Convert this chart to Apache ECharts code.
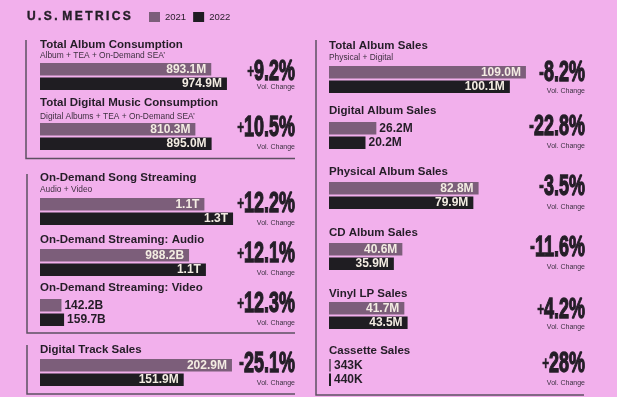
<!DOCTYPE html>
<html>
<head>
<meta charset="utf-8">
<script src="https://cdn.jsdelivr.net/npm/echarts@6/dist/echarts.min.js"></script>
<style>
html, body { margin: 0; padding: 0; background: #f2b0ec; }
#chart { width: 617px; height: 397px; }
</style>
</head>
<body>
<div id="chart"></div>
<script>
const years = ['2021', '2022'];
const metrics = [
  'Total Album Consumption',
  'Total Digital Music Consumption',
  'On-Demand Song Streaming',
  'On-Demand Streaming: Audio',
  'On-Demand Streaming: Video',
  'Digital Track Sales',
  'Total Album Sales',
  'Digital Album Sales',
  'Physical Album Sales',
  'CD Album Sales',
  'Vinyl LP Sales',
  'Cassette Sales'
];
const subtitles = [
  'Album + TEA + On-Demand SEA\u2019',
  'Digital Albums + TEA + On-Demand SEA\u2019',
  'Audio + Video',
  '', '', '',
  'Physical + Digital',
  '', '', '', '', ''
];
// M for album / track units, B for streams
const values2021 = [893.1, 810.3, 1090, 988.2, 142.2, 202.9, 109.0, 26.2, 82.8, 40.6, 41.7, 0.343];
const values2022 = [974.9, 895.0, 1280, 1100, 159.7, 151.9, 100.1, 20.2, 79.9, 35.9, 43.5, 0.44];
const labels2021 = ['893.1M', '810.3M', '1.1T', '988.2B', '142.2B', '202.9M', '109.0M', '26.2M', '82.8M', '40.6M', '41.7M', '343K'];
const labels2022 = ['974.9M', '895.0M', '1.3T', '1.1T', '159.7B', '151.9M', '100.1M', '20.2M', '79.9M', '35.9M', '43.5M', '440K'];
const volChange = ['+9.2%', '+10.5%', '+12.2%', '+12.1%', '+12.3%', '-25.1%', '-8.2%', '-22.8%', '-3.5%', '-11.6%', '+4.2%', '+28%'];

// where each block sits: column, title cap top, subtitle y, 2021 bar top, % centre, "Vol. Change" y, scale group
const layout = [
  { col: 0, ty: 40, sy: 56, by: 63, py: 71.5, vy: 87, g: 0 },
  { col: 0, ty: 98, sy: 116.5, by: 123, py: 127.5, vy: 147, g: 0 },
  { col: 0, ty: 173, sy: 190, by: 198, py: 204, vy: 223, g: 1 },
  { col: 0, ty: 235, by: 249, py: 253.5, vy: 273, g: 1 },
  { col: 0, ty: 283, by: 299, py: 303.5, vy: 323, g: 1 },
  { col: 0, ty: 345, by: 359, py: 363.5, vy: 383, g: 2 },
  { col: 1, ty: 41, sy: 58, by: 66, py: 73, vy: 91, g: 3 },
  { col: 1, ty: 106, by: 122, py: 126.5, vy: 146, g: 3 },
  { col: 1, ty: 167, by: 182, py: 186.5, vy: 207, g: 3 },
  { col: 1, ty: 228, by: 243, py: 247.5, vy: 267, g: 3 },
  { col: 1, ty: 289, by: 302, py: 310, vy: 327, g: 3 },
  { col: 1, ty: 346, by: 359, py: 363.5, vy: 383, g: 3 }
];
const axisMax = [1043, 1326, 211.4, 110.7]; // per scale group, for a 200px wide grid

const FONT = '"Liberation Sans", Arial, sans-serif';
const barColors = ['#7c5e7a', '#1f1d22'];
const ink = '#241d27';
const colLeft = [40, 329];
const colRight = [295, 585];

const chart = echarts.init(document.getElementById('chart'));

const grids = [], xAxes = [], yAxes = [], series = [];
const graphics = [];

metrics.forEach((m, i) => {
  const L = layout[i];
  const max = axisMax[L.g];
  grids.push({ left: colLeft[L.col], top: L.by - 1.5, width: 200, height: 30 });
  xAxes.push({ type: 'value', gridIndex: i, min: 0, max: max, show: false });
  yAxes.push({ type: 'category', gridIndex: i, data: [m], show: false, inverse: true });
  [values2021, values2022].forEach((vals, k) => {
    const inside = vals[i] / max > 0.3;
    series.push({
      name: years[k],
      type: 'bar',
      xAxisIndex: i,
      yAxisIndex: i,
      data: [vals[i]],
      barWidth: 12.5,
      barGap: '16%',
      barMinHeight: 2,
      itemStyle: { color: barColors[k] },
      label: {
        show: true,
        position: inside ? 'insideRight' : 'right',
        distance: inside ? 5 : 3,
        formatter: (k ? labels2022 : labels2021)[i],
        color: inside ? '#f3ece2' : ink,
        fontSize: 12,
        fontWeight: 'bold',
        fontFamily: FONT
      },
      silent: true
    });
  });

  graphics.push({
    type: 'text', x: colLeft[L.col], y: L.ty + 4.5,
    style: { text: m, fill: ink, font: 'bold 11.5px ' + FONT, verticalAlign: 'middle' }
  });
  if (subtitles[i]) {
    graphics.push({
      type: 'text', x: colLeft[L.col], y: L.sy,
      style: { text: subtitles[i], fill: '#3d2f3f', font: '8.4px ' + FONT, verticalAlign: 'middle' }
    });
  }
  const sign = volChange[i].charAt(0);
  graphics.push({
    type: 'text', x: colRight[L.col], y: L.py, scaleX: 0.62,
    style: {
      text: '{s|' + sign + '}{n|' + volChange[i].slice(1) + '}',
      align: 'right', verticalAlign: 'middle',
      rich: {
        s: { fontSize: sign === '-' ? 24 : 19, fontWeight: 'bold', fontFamily: FONT, fill: ink, stroke: ink, lineWidth: 0.6 },
        n: { fontSize: 29, fontWeight: 'bold', fontFamily: FONT, fill: ink, stroke: ink, lineWidth: 1.3 }
      }
    }
  });
  graphics.push({
    type: 'text', x: colRight[L.col], y: L.vy,
    style: { text: 'Vol. Change', fill: '#3a3040', font: '7px ' + FONT, align: 'right', verticalAlign: 'middle' }
  });
});

// frame lines
[
  [[26, 40], [26, 158.5], [295, 158.5]],
  [[27, 174], [27, 333], [295, 333]],
  [[27, 345], [27, 394], [295, 394]],
  [[316, 40], [316, 395], [584, 395]]
].forEach(pts => {
  graphics.push({ type: 'polyline', shape: { points: pts }, style: { stroke: '#5e5062', lineWidth: 1.5, fill: null } });
});

graphics.push({
  type: 'text', x: 27, y: 17,
  style: {
    text: 'U\u2009.\u2009S\u2009.\u2009\u2009M\u2009E\u2009T\u2009R\u2009I\u2009C\u2009S',
    fill: ink, stroke: ink, lineWidth: 0.4, font: 'bold 12px ' + FONT, verticalAlign: 'middle'
  }
});

chart.setOption({
  backgroundColor: '#f2b0ec',
  animation: false,
  legend: {
    data: years,
    left: 149,
    top: 12,
    padding: 0,
    icon: 'rect',
    itemWidth: 11,
    itemHeight: 10,
    itemGap: 7,
    selectedMode: false,
    textStyle: { fontSize: 9.5, color: ink, fontFamily: FONT }
  },
  grid: grids,
  xAxis: xAxes,
  yAxis: yAxes,
  series: series,
  graphic: graphics
});
</script>
</body>
</html>
